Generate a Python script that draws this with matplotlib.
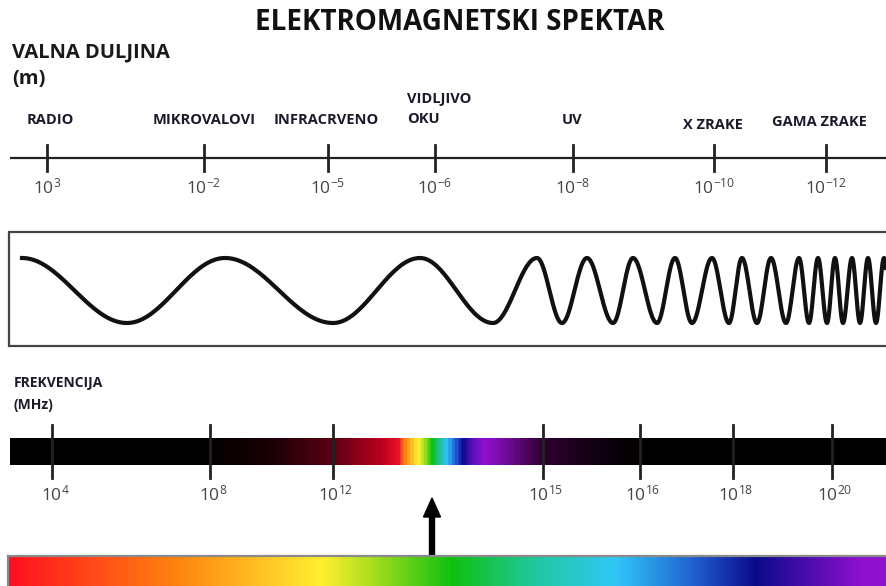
import numpy as np
import matplotlib.pyplot as plt
from matplotlib.colors import LinearSegmentedColormap
from matplotlib.patches import Rectangle

plt.rcParams['font.family'] = ['Open Sans', 'DejaVu Sans']
plt.rcParams['mathtext.fontset'] = 'custom'
plt.rcParams['mathtext.rm'] = 'Open Sans'

# wavelength scale (m)
wave_names = ['RADIO', 'MIKROVALOVI', 'INFRACRVENO', 'VIDLJIVO\nOKU', 'UV', 'X ZRAKE', 'GAMA ZRAKE']
wave_exp = [3, -2, -5, -6, -8, -10, -12]
wave_tick_x = [47, 204, 328, 435, 573, 714, 826]

# frequency scale (MHz)
freq_exp = [4, 8, 12, 15, 16, 18, 20]
freq_tick_x = [52, 210, 333, 543, 640, 733, 832]

# wave drawing: x of alternating crests / troughs
wave_ext_x = [22, 127, 225, 333, 420, 493, 537, 562, 587, 613, 633, 657, 675, 692,
              712, 729, 742, 757, 771, 786, 799, 809, 818, 827, 835, 843, 852, 860,
              868, 876, 884, 892]

# colour stops along the bars (x, colour)
freq_stops = [(10, '#000000'), (200, '#000000'), (270, '#1a0006'), (333, '#5c0012'),
              (380, '#b8001e'), (398, '#e8102a'), (404, '#ff7a10'), (412, '#ffc020'),
              (418, '#fff030'), (425, '#a0e020'), (432, '#10c010'), (440, '#20c0a0'),
              (447, '#30c0f0'), (455, '#2060e0'), (463, '#0a0a90'), (471, '#5010b0'),
              (484, '#9010d0'), (510, '#6a0a90'), (543, '#300030'), (600, '#100010'),
              (640, '#000000'), (886, '#000000')]
vis_stops = [(8, '#ff1020'), (170, '#ff8010'), (322, '#fff030'), (367, '#b0e020'),
             (452, '#10c010'), (537, '#20c8a0'), (616, '#30c8f8'), (695, '#2060d0'),
             (757, '#0a0a8a'), (864, '#9010d0'), (886, '#9010d0')]


def make_cmap(stops, x0, x1):
    return LinearSegmentedColormap.from_list(
        'c', [((x - x0) / (x1 - x0), c) for x, c in stops])


fig = plt.figure(figsize=(8.86, 5.86), dpi=100)
ax = fig.add_axes([0, 0, 1, 1])
ax.set_xlim(0, 886)
ax.set_ylim(586, 0)
ax.axis('off')

ax.text(460, 22, 'ELEKTROMAGNETSKI SPEKTAR', ha='center', va='center',
        fontsize=20, fontweight='bold', color='#111111')
ax.text(12, 52, 'VALNA DULJINA', ha='left', va='center', fontsize=14.5,
        fontweight='bold', color='#1a1a1a')
ax.text(12, 79, '(m)', ha='left', va='center', fontsize=14.5,
        fontweight='bold', color='#1a1a1a')

# wavelength axis
ax.plot([10, 886], [158, 158], color='#222222', lw=1.6, solid_capstyle='butt')
label_x = [50, 204, 326, 407, 572, 713, 819]
label_y = [120, 120, 120, 109, 120, 125, 122]
for i, name in enumerate(wave_names):
    x = wave_tick_x[i]
    ax.plot([x, x], [145, 171], color='#222222', lw=2)
    ax.text(label_x[i], label_y[i], name, ha='left' if '\n' in name else 'center',
            va='center', fontsize=10.5, fontweight='bold', color='#1a1a2a',
            linespacing=1.5)
    ax.text(x, 187, r'$\mathregular{10^{%d}}$' % wave_exp[i], ha='center',
            va='center', fontsize=12.5, color='#444444')

# wave box
ax.add_patch(Rectangle((9, 232), 890, 114, facecolor='white', edgecolor='#444444', lw=1.6))
ext_y = [258 if i % 2 == 0 else 323 for i in range(len(wave_ext_x))]
xs, ys = [], []
for i in range(len(wave_ext_x) - 1):
    t = np.linspace(0, 1, 40)
    xs.append(wave_ext_x[i] + (wave_ext_x[i + 1] - wave_ext_x[i]) * t)
    ys.append(ext_y[i] + (ext_y[i + 1] - ext_y[i]) * (1 - np.cos(np.pi * t)) / 2)
ax.plot(np.concatenate(xs), np.concatenate(ys), color='#111111', lw=3, clip_on=True)

# frequency bar
ax.text(14, 383, 'FREKVENCIJA', ha='left', va='center', fontsize=10,
        fontweight='bold', color='#1a1a2a')
ax.text(14, 405, '(MHz)', ha='left', va='center', fontsize=10,
        fontweight='bold', color='#1a1a2a')
grad = np.linspace(0, 1, 900)[None, :]
ax.imshow(grad, extent=(10, 886, 465, 438), aspect='auto',
          cmap=make_cmap(freq_stops, 10, 886), interpolation='bilinear')
for i, e in enumerate(freq_exp):
    x = freq_tick_x[i]
    ax.plot([x, x], [425, 478], color='#222222', lw=2)
    ax.text(x + 3, 494, r'$\mathregular{10^{%d}}$' % e, ha='center', va='center',
            fontsize=12.5, color='#444444')

# arrow to visible spectrum
ax.arrow(432, 556, 0, -58, width=5, head_width=17, head_length=19,
         length_includes_head=True, color='#000000')

# visible spectrum bar
ax.imshow(grad, extent=(8, 886, 590, 556), aspect='auto',
          cmap=make_cmap(vis_stops, 8, 886), interpolation='bilinear')
ax.plot([8, 886], [556, 556], color='#8a8a8a', lw=1.6)
ax.plot([8, 8], [556, 590], color='#8a8a8a', lw=1.6)

ax.set_xlim(0, 886)
ax.set_ylim(586, 0)
fig.savefig('out.png', dpi=100)
